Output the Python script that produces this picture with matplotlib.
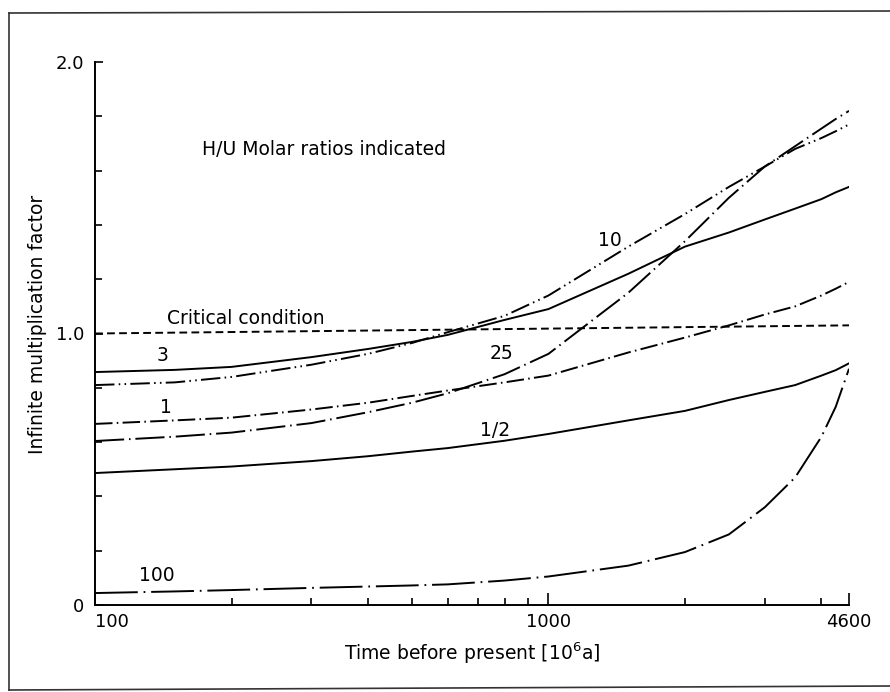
import matplotlib
matplotlib.use("Agg")
import matplotlib.pyplot as plt
from matplotlib.lines import Line2D
from matplotlib.ticker import FixedLocator, FixedFormatter, NullFormatter

# time before present [10^6 a]
time_ma = [100, 150, 200, 300, 400, 500, 600, 800, 1000, 1500, 2000, 2500, 3000, 3500, 4000, 4300, 4600]

# infinite multiplication factor, one list per H/U molar ratio
k_half = [0.486, 0.50, 0.51, 0.53, 0.548, 0.565, 0.578, 0.605, 0.63, 0.68, 0.715, 0.755, 0.785, 0.81, 0.845, 0.865, 0.89]
k_1 = [0.667, 0.68, 0.69, 0.72, 0.745, 0.77, 0.79, 0.82, 0.845, 0.93, 0.985, 1.03, 1.07, 1.10, 1.14, 1.165, 1.19]
k_3 = [0.858, 0.866, 0.877, 0.913, 0.943, 0.969, 0.995, 1.05, 1.09, 1.22, 1.32, 1.372, 1.42, 1.46, 1.495, 1.52, 1.54]
k_10 = [0.81, 0.82, 0.84, 0.885, 0.925, 0.965, 1.005, 1.065, 1.14, 1.32, 1.44, 1.54, 1.615, 1.68, 1.72, 1.745, 1.77]
k_25 = [0.604, 0.62, 0.635, 0.67, 0.71, 0.745, 0.78, 0.85, 0.925, 1.15, 1.34, 1.50, 1.615, 1.69, 1.755, 1.79, 1.82]
k_100 = [0.044, 0.05, 0.055, 0.063, 0.068, 0.072, 0.076, 0.09, 0.105, 0.145, 0.195, 0.26, 0.36, 0.47, 0.62, 0.73, 0.87]

crit_x = [100, 4600]
crit_k = [1.0, 1.03]

x_major = [100, 1000, 4600]
x_major_labels = ["100", "1000", "4600"]
x_minor = [200, 300, 400, 500, 600, 700, 800, 900, 2000, 3000, 4000]
y_major = [0, 1.0, 2.0]
y_major_labels = ["0", "1.0", "2.0"]
y_minor = [0.2, 0.4, 0.6, 0.8, 1.2, 1.4, 1.6, 1.8]

LW = 1.4
FS = 13.5

fig = plt.figure(figsize=(8.9, 6.92), dpi=100)
ax = fig.add_axes([95 / 890, 87 / 692, 754 / 890, 543 / 692])

ax.plot(crit_x, crit_k, color="black", lw=LW, linestyle=(0, (4, 2.2)))
ax.plot(time_ma, k_half, color="black", lw=LW, linestyle="-")
ax.plot(time_ma, k_3, color="black", lw=LW, linestyle="-")
ax.plot(time_ma, k_1, color="black", lw=LW, linestyle=(0, (9, 2.2, 0.8, 2.2)))
ax.plot(time_ma, k_10, color="black", lw=LW, linestyle=(0, (10, 2.2, 0.8, 2.2, 0.8, 2.2)))
ax.plot(time_ma, k_25, color="black", lw=LW, linestyle=(0, (15, 2.5, 0.8, 2.5)))
ax.plot(time_ma, k_100, color="black", lw=LW, linestyle=(0, (22, 3, 0.9, 3)))

ax.set_xscale("log")
ax.set_xlim(100, 4600)
ax.set_ylim(0, 2.0)

ax.xaxis.set_major_locator(FixedLocator(x_major))
ax.xaxis.set_major_formatter(FixedFormatter(x_major_labels))
ax.xaxis.set_minor_locator(FixedLocator(x_minor))
ax.xaxis.set_minor_formatter(NullFormatter())
ax.yaxis.set_major_locator(FixedLocator(y_major))
ax.yaxis.set_major_formatter(FixedFormatter(y_major_labels))
ax.yaxis.set_minor_locator(FixedLocator(y_minor))

ax.tick_params(which="both", direction="in", width=1.2, labelsize=13)
ax.tick_params(axis="x", which="major", length=8.5, pad=6)
ax.tick_params(axis="x", which="minor", length=5)
ax.tick_params(axis="y", which="major", length=6, pad=8)
ax.tick_params(axis="y", which="minor", length=5)
ax.get_xticklabels()[0].set_ha("left")

for side in ["top", "right"]:
    ax.spines[side].set_visible(False)
for side in ["left", "bottom"]:
    ax.spines[side].set_linewidth(1.4)

ax.set_xlabel(r"Time before present [10$^{6}$a]", fontsize=FS)
ax.xaxis.set_label_coords(0.5, -0.066)
ax.set_ylabel("Infinite multiplication factor", fontsize=FS)
ax.yaxis.set_label_coords(-0.064, 0.516)

# curve labels
ax.text(172, 1.676, "H/U Molar ratios indicated", fontsize=FS, va="center", ha="left")
ax.text(144, 1.057, "Critical condition", fontsize=FS, va="center", ha="left")
ax.text(141, 0.92, "3", fontsize=FS, va="center", ha="center")
ax.text(143, 0.726, "1", fontsize=FS, va="center", ha="center")
ax.text(137, 0.107, "100", fontsize=FS, va="center", ha="center")
ax.text(787, 0.928, "25", fontsize=FS, va="center", ha="center")
ax.text(763, 0.641, "1/2", fontsize=FS, va="center", ha="center")
ax.text(1364, 1.344, "10", fontsize=FS, va="center", ha="center")

# page frame from the scan
fc = "#333333"
fig.add_artist(Line2D([9 / 890, 1.0], [1 - 13 / 692, 1 - 11 / 692], color=fc, lw=1.2))
fig.add_artist(Line2D([9 / 890, 9 / 890], [1 - 13 / 692, 1 - 690 / 692], color=fc, lw=1.2))
fig.add_artist(Line2D([9 / 890, 1.0], [1 - 690 / 692, 1 - 686 / 692], color=fc, lw=1.2))

fig.savefig("out.png", dpi=100)
